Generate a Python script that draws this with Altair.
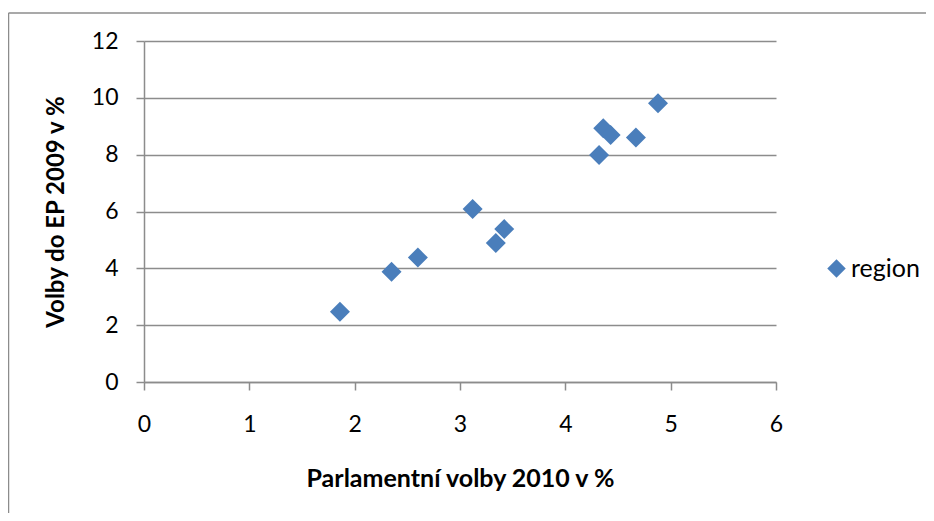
import altair as alt
import pandas as pd

# Data
x_vals = [1.86, 2.35, 2.60, 3.12, 3.42, 3.34, 4.32, 4.36, 4.43, 4.67, 4.88]
y_vals = [2.47, 3.88, 4.38, 6.09, 5.38, 4.89, 7.99, 8.93, 8.69, 8.60, 9.81]
series_name = "region"
x_ticks = [0, 1, 2, 3, 4, 5, 6]
y_ticks = [0, 2, 4, 6, 8, 10, 12]
x_title = "Parlamentní volby 2010 v %"
y_title = "Volby do EP 2009 v %"

df = pd.DataFrame({"x": x_vals, "y": y_vals, "series": [series_name] * len(x_vals)})
one = pd.DataFrame({"a": [0]})

FONT = "Lato"
GRID = "#8c8c8c"
BLUE = "#4A7EBB"

W, H = 632, 341

points = alt.Chart(df).mark_point(
    shape="diamond", filled=True, size=400, opacity=1
).encode(
    x=alt.X(
        "x:Q",
        scale=alt.Scale(domain=[0, 6], nice=False),
        axis=alt.Axis(
            values=x_ticks, grid=False, domainColor=GRID, domainWidth=1.5,
            tickColor=GRID, tickWidth=1.5, tickSize=8, labelFlush=False,
            labelFont=FONT, labelFontSize=23, labelColor="black",
            labelBaseline="middle", labelPadding=34,
            title=x_title, titleFont=FONT, titleFontSize=25, titleFontWeight="bold",
            titleColor="black", titleBaseline="middle", titleY=96, titleX=W / 2,
        ),
    ),
    y=alt.Y(
        "y:Q",
        scale=alt.Scale(domain=[0, 12], nice=False),
        axis=alt.Axis(
            values=y_ticks, grid=True, gridColor=GRID, gridWidth=1.5,
            domainColor=GRID, domainWidth=1.5, labelFlush=False,
            tickColor=GRID, tickWidth=1.5, tickSize=8,
            labelFont=FONT, labelFontSize=23, labelColor="black", labelPadding=18,
            title=y_title, titleFont=FONT, titleFontSize=24, titleFontWeight="bold",
            titleColor="black", titleAngle=-90, titleBaseline="middle",
            titleX=-88, titleY=H / 2,
        ),
    ),
    color=alt.Color(
        "series:N",
        scale=alt.Scale(range=[BLUE]),
        legend=alt.Legend(
            title=None, orient="none", legendX=680, legendY=215,
            symbolType="diamond", symbolSize=340, symbolStrokeWidth=0,
            symbolOpacity=1, labelFont=FONT, labelFontSize=25, labelColor="black",
            labelOffset=2, padding=0,
        ),
    ),
)

border_v = alt.Chart(one).mark_rule(color=GRID, strokeWidth=1.5).encode(
    x=alt.value(-135.5), y=alt.value(-28), y2=alt.value(700)
)
border_h = alt.Chart(one).mark_rule(color=GRID, strokeWidth=1.5).encode(
    x=alt.value(-135.5), x2=alt.value(900), y=alt.value(-28)
)

chart = alt.layer(border_v, border_h, points).properties(
    width=W, height=H,
    autosize="none",
    padding={"left": 136, "top": 33, "right": 150, "bottom": 131},
).configure_view(strokeWidth=0)

chart.save("out.html", embed_options={"renderer": "svg", "actions": False})
